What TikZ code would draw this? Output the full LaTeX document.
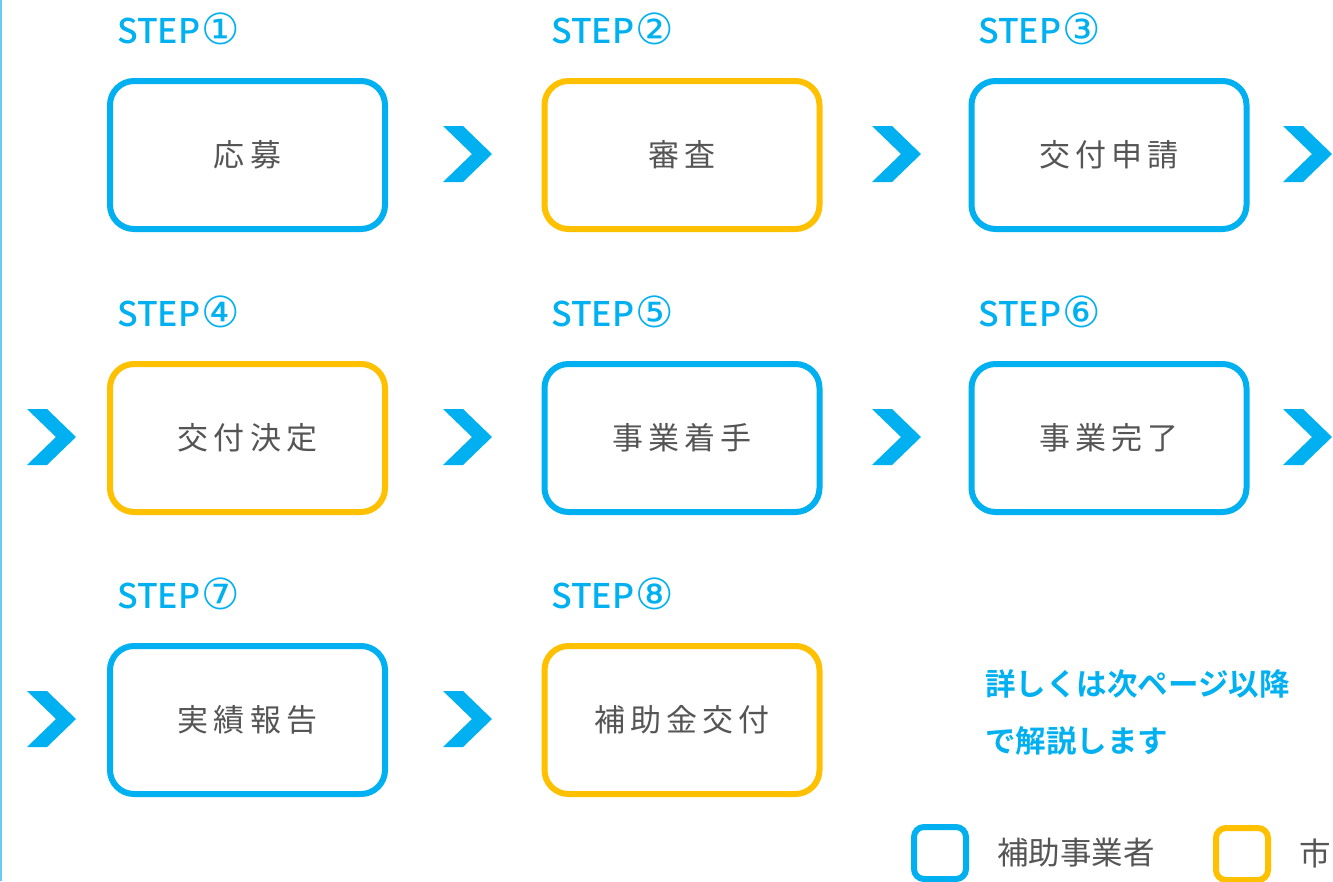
\documentclass[tikz,border=0pt]{standalone}
\usepackage{fontspec}
\setmainfont{Noto Sans CJK JP}
\newfontfamily\jpbold{Noto Sans CJK JP Bold}
\newfontfamily\jpmed{Noto Sans CJK JP Medium}
\newfontfamily\djv{DejaVu Sans}
\definecolor{sblue}{HTML}{00B0F0}
\definecolor{sorange}{HTML}{FFC000}
\definecolor{sgray}{HTML}{555555}
\definecolor{sline}{HTML}{66CCF2}
\newcommand{\cnum}[1]{\kern1pt\raisebox{-1.5pt}{\scalebox{1.3}{\djv\fontsize{33}{36}\selectfont #1}}}
\tikzset{
  stepbox/.style={draw, line width=6pt, rounded corners=24pt, minimum width=275pt, minimum height=148pt, fill=white, text=sgray, font=\fontsize{31}{36}\selectfont, inner sep=0pt},
  userbox/.style={stepbox, draw=sblue},
  citybox/.style={stepbox, draw=sorange},
  steplabel/.style={anchor=base west, text=sblue, font=\jpmed\fontsize{34}{36}\selectfont, inner sep=0pt},
  legbox/.style={draw, line width=6pt, rounded corners=10pt, minimum width=52pt, minimum height=52pt, inner sep=0pt},
  legtext/.style={anchor=west, text=sgray, font=\fontsize{31.5}{36}\selectfont, inner sep=0pt},
  notetext/.style={anchor=base west, text=sblue, font=\jpbold\fontsize{30.5}{36}\selectfont, inner sep=0pt},
  chev/.pic={\fill[sblue] (-24.5,-28) -- (-4.5,-28) -- (24.5,0) -- (-4.5,28) -- (-24.5,28) -- (4.5,0) -- cycle;}
}
\begin{document}
\begin{tikzpicture}[x=1pt,y=-1pt]
\useasboundingbox (0,0) rectangle (1333,881);
\draw[sline, line width=2pt] (1,0) -- (1,881);

% row 1
\node[userbox] (b1) at (247.5,155) {応\,募};
\node[citybox] (b2) at (682,155) {審\,査};
\node[userbox] (b3) at (1109,155) {交\,付\,申\,請};
% row 2
\node[citybox] (b4) at (247.5,438) {交\,付\,決\,定};
\node[userbox] (b5) at (682,438) {事\,業\,着\,手};
\node[userbox] (b6) at (1109,438) {事\,業\,完\,了};
% row 3
\node[userbox] (b7) at (247.5,720) {実\,績\,報\,告};
\node[citybox] (b8) at (682,720) {補\,助\,金\,交\,付};

% step labels
\node[steplabel] (s1) at (117,43) {STEP\cnum{①}};
\node[steplabel] (s2) at (551,43) {STEP\cnum{②}};
\node[steplabel] (s3) at (978,43) {STEP\cnum{③}};
\node[steplabel] (s4) at (117,326) {STEP\cnum{④}};
\node[steplabel] (s5) at (551,326) {STEP\cnum{⑤}};
\node[steplabel] (s6) at (978,326) {STEP\cnum{⑥}};
\node[steplabel] (s7) at (117,608) {STEP\cnum{⑦}};
\node[steplabel] (s8) at (551,608) {STEP\cnum{⑧}};

% chevrons
\pic at (467.5,154) {chev};
\pic at (896.5,154) {chev};
\pic at (1307.5,154) {chev};
\pic at (51.5,437) {chev};
\pic at (467.5,437) {chev};
\pic at (896.5,437) {chev};
\pic at (1307.5,437) {chev};
\pic at (51.5,719) {chev};
\pic at (467.5,719) {chev};

% note
\node[notetext] (n1) at (985,695) {詳しくは次ページ以降};
\node[notetext] (n2) at (985,752) {で解説します};

% legend
\node[legbox, draw=sblue] (l1) at (940,853) {};
\node[legtext] (lt1) at (997,853) {補助事業者};
\node[legbox, draw=sorange] (l2) at (1242,854) {};
\node[legtext] (lt2) at (1299,853) {市};
\end{tikzpicture}
\end{document}
